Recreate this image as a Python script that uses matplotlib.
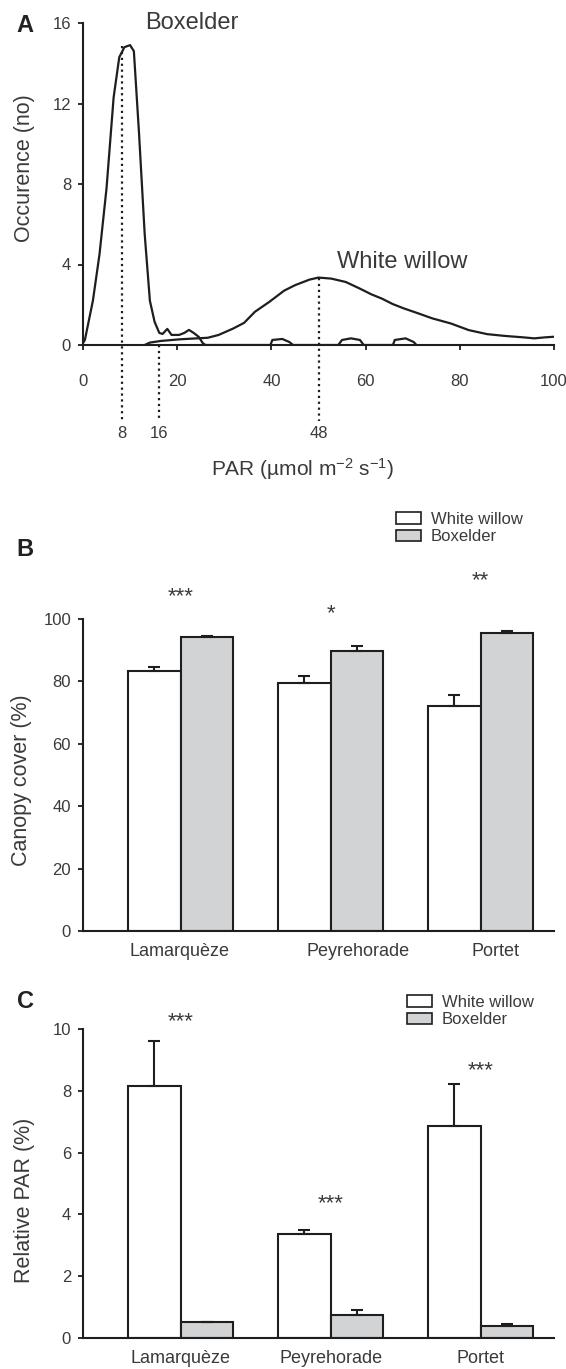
import matplotlib
matplotlib.use('Agg')
import matplotlib.pyplot as plt
import numpy as np
from matplotlib.patches import Patch

plt.rcParams['font.family'] = ['Liberation Sans', 'DejaVu Sans']
plt.rcParams['mathtext.default'] = 'regular'

# ---------------- data ----------------
# Panel A: occurrence vs PAR
boxelder_x = [0, 0.4, 2.1, 3.5, 5.0, 6.5, 7.7, 8.8, 10.0, 10.8, 11.9, 13.1, 14.2, 15.2, 16.2,
              16.9, 17.9, 18.8, 20.4, 21.5, 22.5, 23.5, 24.6, 25.4, 26.0,
              39.8, 40.2, 42.3, 43.8, 44.6, 54.2, 55.0, 56.9, 58.8, 59.6,
              65.8, 66.2, 68.5, 70.2, 70.8]
boxelder_y = [0.1, 0.25, 2.2, 4.5, 7.8, 12.3, 14.3, 14.8, 14.9, 14.6, 10.5, 5.5, 2.2, 1.15, 0.6,
              0.55, 0.8, 0.5, 0.5, 0.6, 0.75, 0.6, 0.4, 0.1, 0,
              0, 0.25, 0.3, 0.15, 0, 0, 0.25, 0.33, 0.25, 0,
              0, 0.25, 0.33, 0.15, 0]
willow_x = [13.1, 14.2, 16.5, 20.4, 24.2, 26.5, 28.8, 31.9, 34.2, 36.5, 39.6, 42.7, 45.0, 48.1,
            50.0, 52.7, 55.8, 58.8, 61.2, 63.5, 65.8, 68.1, 71.2, 74.2, 78.1, 81.9, 85.8,
            89.6, 93.5, 95.8, 98.1, 100]
willow_y = [0, 0.12, 0.2, 0.28, 0.33, 0.36, 0.5, 0.82, 1.1, 1.65, 2.15, 2.7, 2.97, 3.25,
            3.35, 3.3, 3.13, 2.8, 2.52, 2.3, 2.03, 1.82, 1.57, 1.32, 1.07, 0.74, 0.54,
            0.45, 0.38, 0.33, 0.38, 0.41]
mode_x = [8.3, 16.2, 50.0]
mode_top = [14.85, 0.0, 3.35]
mode_labels = ['8', '16', '48']

# Panels B and C
sites = ['Lamarquèze', 'Peyrehorade', 'Portet']
series = ['White willow', 'Boxelder']
cover_willow = [83.2, 79.4, 72.0]
cover_willow_err = [1.3, 2.3, 3.7]
cover_box = [94.1, 89.6, 95.6]
cover_box_err = [0.6, 1.6, 0.7]
cover_sig = ['***', '*', '**']
cover_sig_y = [107.2, 101.6, 112.3]

relpar_willow = [8.14, 3.35, 6.86]
relpar_willow_err = [1.48, 0.16, 1.36]
relpar_box = [0.52, 0.735, 0.38]
relpar_box_err = [0.0, 0.17, 0.06]
relpar_sig = ['***', '***', '***']
relpar_sig_y = [10.25, 4.34, 8.65]

# ---------------- style ----------------
W, H = 566, 1369
TXT = '#3a3a3a'
LN = '#1e1e1e'
GRAY = '#d2d3d4'

fig = plt.figure(figsize=(W / 100, H / 100), dpi=100)


def axes_px(left, top, right, bottom):
    return fig.add_axes([left / W, 1 - bottom / H, (right - left) / W, (bottom - top) / H])


def style(ax):
    for s in ['top', 'right']:
        ax.spines[s].set_visible(False)
    for s in ['left', 'bottom']:
        ax.spines[s].set_linewidth(1.5)
        ax.spines[s].set_color(LN)
    ax.tick_params(direction='out', length=3.6, width=1.3, color=LN,
                   labelsize=12, labelcolor=TXT)
    ax.tick_params(axis='y', pad=5)


# ---------------- Panel A ----------------
axA = axes_px(83, 23, 554, 345)
style(axA)
axA.plot(boxelder_x, boxelder_y, color=LN, lw=1.6, solid_joinstyle='round')
axA.plot(willow_x, willow_y, color=LN, lw=1.6, solid_joinstyle='round')
axA.set_xlim(0, 100)
axA.set_ylim(0, 16)
axA.set_xticks([0, 20, 40, 60, 80, 100])
axA.set_yticks([0, 4, 8, 12, 16])
axA.tick_params(axis='x', pad=17)
for mx, mt, ml in zip(mode_x, mode_top, mode_labels):
    axA.plot([mx, mx], [mt, -3.8], ls=':', lw=1.6, color=LN, clip_on=False)
    axA.text(mx, -4.4, ml, ha='center', va='center', fontsize=12, color=TXT, clip_on=False)
axA.text(23.1, 16.0, 'Boxelder', ha='center', va='center', fontsize=17, color=TXT, clip_on=False)
axA.text(67.7, 4.13, 'White willow', ha='center', va='center', fontsize=17, color=TXT)
fig.text(303 / W, 1 - 469 / H, 'PAR (µmol m$^{-2}$ s$^{-1}$)', ha='center', va='center',
         fontsize=15, color=TXT)
fig.text(25 / W, 1 - 168 / H, 'Occurence (no)', rotation=90, ha='center', va='center',
         fontsize=15.5, color=TXT)
fig.text(25 / W, 1 - 25 / H, 'A', ha='center', va='center', fontsize=17,
         fontweight='bold', color='#222222')

# ---------------- bar panels ----------------
w = 0.351
x = np.arange(len(sites))


def bars(ax, wv, we, bv, be, sig, sig_y):
    ax.bar(x - w / 2, wv, w, color='white', edgecolor=LN, lw=1.5, zorder=2)
    ax.bar(x + w / 2, bv, w, color=GRAY, edgecolor=LN, lw=1.5, zorder=2)
    ax.errorbar(x - w / 2, wv, yerr=[np.zeros(len(wv)), we], fmt='none', ecolor=LN,
                elinewidth=1.5, capsize=4, capthick=1.5, zorder=3)
    ax.errorbar(x + w / 2, bv, yerr=[np.zeros(len(bv)), be], fmt='none', ecolor=LN,
                elinewidth=1.5, capsize=4, capthick=1.5, zorder=3)
    for xi, s, sy in zip(x, sig, sig_y):
        ax.text(xi, sy, s, ha='center', va='center', fontsize=16, color=TXT, clip_on=False)
    ax.set_xlim(-0.651, 2.489)
    ax.tick_params(axis='x', length=0, pad=8.5, labelsize=13)


handles = [Patch(facecolor='white', edgecolor=LN, lw=1.2, label=series[0]),
           Patch(facecolor=GRAY, edgecolor=LN, lw=1.2, label=series[1])]

# Panel B
axB = axes_px(83, 619, 554, 931)
style(axB)
bars(axB, cover_willow, cover_willow_err, cover_box, cover_box_err, cover_sig, cover_sig_y)
axB.set_ylim(0, 100)
axB.set_yticks([0, 20, 40, 60, 80, 100])
axB.set_xticks(x + np.array([-0.01, 0.18, 0.10]))
axB.set_xticklabels(sites)
fig.text(22 / W, 1 - 780 / H, 'Canopy cover (%)', rotation=90, ha='center', va='center',
         fontsize=15.5, color=TXT)
fig.text(25 / W, 1 - 549 / H, 'B', ha='center', va='center', fontsize=17,
         fontweight='bold', color='#222222')
fig.legend(handles=handles, loc='center left', bbox_to_anchor=(396 / W, 1 - 528 / H),
           frameon=False, fontsize=12, handlelength=1.5, handleheight=0.7,
           handletextpad=0.6, labelspacing=0.15, borderpad=0, borderaxespad=0,
           labelcolor=TXT)

# Panel C
axC = axes_px(83, 1029, 554, 1338)
style(axC)
bars(axC, relpar_willow, relpar_willow_err, relpar_box, relpar_box_err, relpar_sig, relpar_sig_y)
axC.set_ylim(0, 10)
axC.set_yticks([0, 2, 4, 6, 8, 10])
axC.set_xticks(x)
axC.set_xticklabels(sites)
fig.text(25 / W, 1 - 1200 / H, 'Relative PAR (%)', rotation=90, ha='center', va='center',
         fontsize=15.5, color=TXT)
fig.text(25 / W, 1 - 1002 / H, 'C', ha='center', va='center', fontsize=17,
         fontweight='bold', color='#222222')
fig.legend(handles=handles, loc='center left', bbox_to_anchor=(407 / W, 1 - 1011 / H),
           frameon=False, fontsize=12, handlelength=1.5, handleheight=0.7,
           handletextpad=0.6, labelspacing=0.15, borderpad=0, borderaxespad=0,
           labelcolor=TXT)

fig.savefig('out.png', dpi=100)
